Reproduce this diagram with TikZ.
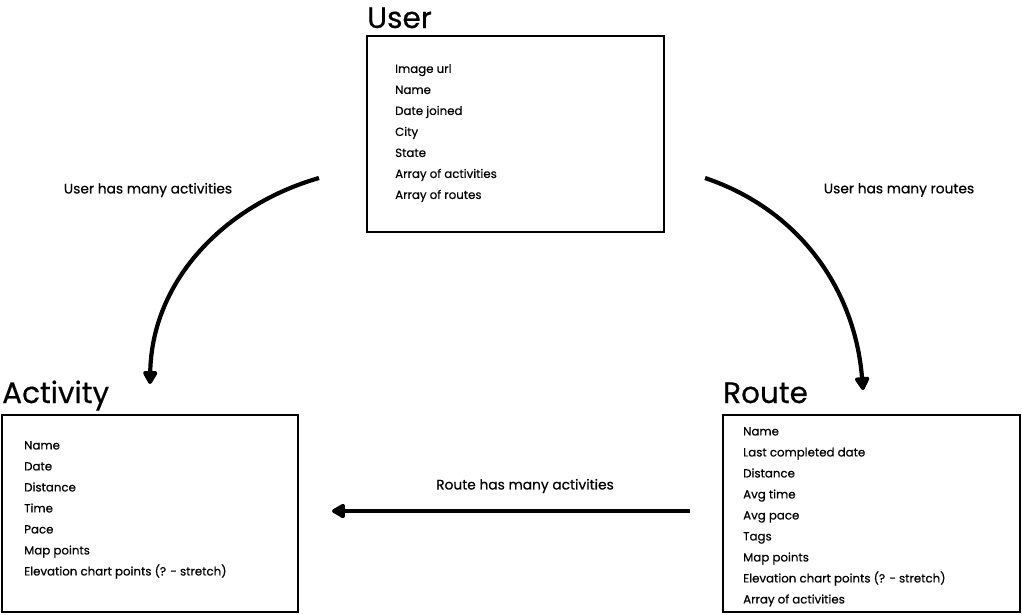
\documentclass[tikz,border=0pt]{standalone}
\usepackage{fontspec}
\setmainfont{Poppins}[FakeBold=0.5]
\usetikzlibrary{arrows.meta}
\begin{document}
\begin{tikzpicture}[x=1pt,y=-1pt,
  entbox/.style={draw=black,line width=1.9pt,fill=white},
  enttitle/.style={anchor=base west,inner sep=0pt,font=\fontsize{29.5}{31}\selectfont},
  entlist/.style={anchor=north west,inner sep=0pt,align=left,font=\fontsize{11.8}{21}\selectfont},
  rel/.style={font=\fontsize{13.8}{16}\selectfont,inner sep=0pt},
  conn/.style={line width=4.2pt,-{Triangle[length=15pt,width=16pt,round]}}]
\useasboundingbox (0,0) rectangle (1022,614);
\fill[white] (0,0) rectangle (1022,614);
% boxes
\draw[entbox] (367,36) rectangle (664,232);
\draw[entbox] (2,415) rectangle (298,612);
\draw[entbox] (723,415) rectangle (1020,612);
% titles
\node[enttitle] (usertitle) at (367,28) {User};
\node[enttitle] (acttitle) at (2,403) {Activity};
\node[enttitle] (routetitle) at (723,403) {Route};
% lists
\node[entlist] (userlist) at (395,64) {Image url\\Name\\Date joined\\City\\State\\Array of activities\\Array of routes};
\node[entlist] (actlist) at (24,441) {Name\\Date\\Distance\\Time\\Pace\\Map points\\Elevation chart points (? - stretch)};
\node[entlist] (routelist) at (743,427) {Name\\Last completed date\\Distance\\Avg time\\Avg pace\\Tags\\Map points\\Elevation chart points (? - stretch)\\Array of activities};
% relation labels
\node[rel] (l1) at (148,190) {User has many activities};
\node[rel] (l2) at (899,190) {User has many routes};
\node[rel] (l3) at (525,486) {Route has many activities};
% connector ends
\coordinate (a1s) at (319,178);
\coordinate (a1e) at (150,384);
\coordinate (a2s) at (705,178);
\coordinate (a2e) at (863,390);
\coordinate (a3s) at (690,511);
\coordinate (a3e) at (332,511);
\draw[conn] (a1s) .. controls (225,205) and (152,280) .. (a1e);
\draw[conn] (a2s) .. controls (800,210) and (855,290) .. (a2e);
\draw[conn] (a3s) -- (a3e);
\end{tikzpicture}
\end{document}
